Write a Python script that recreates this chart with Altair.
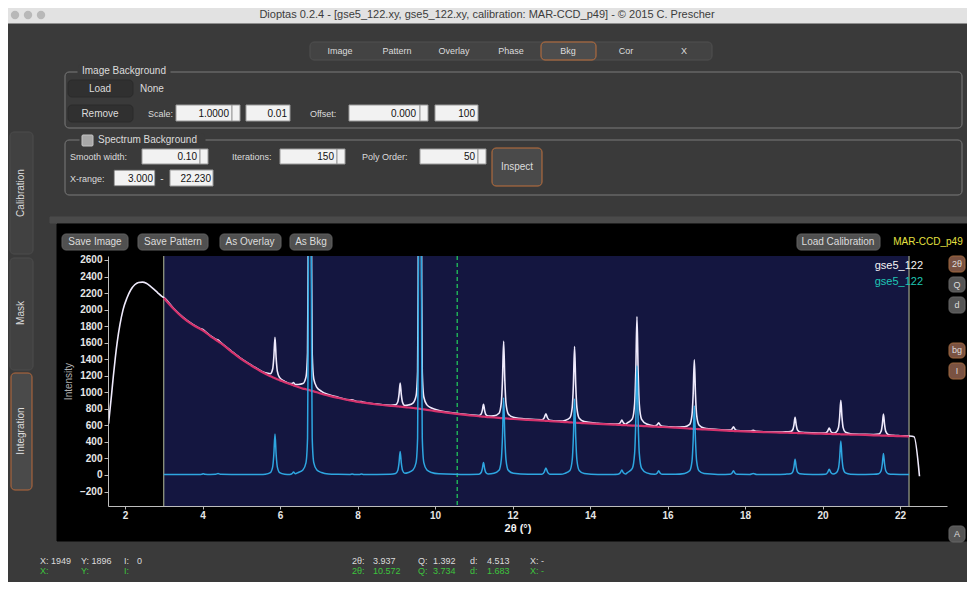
import altair as alt
import pandas as pd

# ------------------------------------------------------------------ data
# integrated pattern inside the background x-range (3.000 - 22.230)
two_theta = [
    3.00, 3.25, 3.50, 3.75, 3.92,
    3.98, 4.02, 4.06, 4.20, 4.34, 4.40, 4.46,
    4.75, 5.00, 5.25, 5.50,
    5.62, 5.75, 5.81, 5.84, 5.87, 5.90, 5.93, 5.99, 6.12,
    6.25, 6.31, 6.35, 6.39,
    6.47, 6.59, 6.67, 6.71, 6.725, 6.735, 6.77, 6.805, 6.815, 6.83, 6.87, 6.95, 7.07,
    7.25, 7.50, 7.80, 7.86, 7.92, 8.05, 8.10, 8.16, 8.50, 8.85,
    8.98, 9.04, 9.07, 9.10, 9.13, 9.16, 9.22,
    9.31, 9.43, 9.51, 9.55, 9.565, 9.575, 9.61, 9.645, 9.655, 9.67, 9.71, 9.79, 9.91,
    10.10, 10.50, 10.90,
    11.13, 11.19, 11.22, 11.25, 11.28, 11.31, 11.37,
    11.52, 11.65, 11.71, 11.74, 11.77, 11.80, 11.83, 11.89, 12.02,
    12.40, 12.76, 12.82, 12.86, 12.90, 12.96, 13.25,
    13.35, 13.48, 13.54, 13.57, 13.60, 13.63, 13.66, 13.72, 13.85,
    14.20, 14.60, 14.72, 14.78, 14.82, 14.86, 14.92,
    14.96, 15.09, 15.15, 15.18, 15.21, 15.24, 15.27, 15.33, 15.46,
    15.67, 15.73, 15.77, 15.81, 15.87, 16.20,
    16.44, 16.57, 16.63, 16.66, 16.69, 16.72, 16.75, 16.81, 16.94,
    17.30, 17.60, 17.66, 17.70, 17.74, 17.80, 18.12, 18.21, 18.30, 18.80,
    19.04, 19.17, 19.23, 19.26, 19.29, 19.32, 19.35, 19.41, 19.54,
    19.90, 20.07, 20.13, 20.17, 20.21, 20.27,
    20.35, 20.41, 20.44, 20.47, 20.50, 20.53, 20.59, 20.72,
    21.10, 21.32, 21.45, 21.51, 21.54, 21.57, 21.60, 21.63, 21.69, 21.82,
    22.00, 22.23,
]
background = [
    2140, 2010, 1900, 1815, 1770,
    1755, 1742, 1730, 1680, 1635, 1615, 1598,
    1490, 1400, 1325, 1255,
    1225, 1195, 1182, 1176, 1170, 1164, 1158, 1147, 1122,
    1100, 1090, 1084, 1077,
    1064, 1045, 1037, 1032, 1030, 1029, 1024, 1019, 1018, 1016, 1011, 1000, 982,
    960, 932, 902, 897, 892, 881, 878, 874, 852, 836,
    831, 829, 828, 826, 825, 823, 820,
    816, 810, 806, 804, 803, 802, 800, 798, 797, 796, 793, 788, 780,
    766, 742, 721,
    710, 707, 706, 705, 704, 702, 700,
    695, 690, 688, 687, 686, 685, 684, 682, 677,
    667, 658, 656, 655, 654, 652, 643,
    640, 637, 635, 634, 633, 632, 631, 630, 627,
    619, 610, 606, 605, 604, 603, 602,
    601, 598, 597, 596, 596, 595, 594, 593, 590,
    585, 583, 582, 581, 580, 572,
    565, 561, 559, 558, 557, 557, 556, 554, 551,
    542, 534, 533, 532, 531, 530, 524, 522, 521, 514,
    511, 510, 509, 508, 508, 508, 507, 507, 505,
    500, 498, 497, 497, 496, 495,
    494, 493, 493, 492, 492, 491, 491, 489,
    484, 480, 478, 477, 477, 476, 476, 475, 474, 472,
    469, 465,
]
subtracted = [
    6, 6, 6, 6, 6,
    9, 15, 9, 6, 8, 18, 8,
    6, 6, 6, 6,
    10, 30, 99, 248, 495, 248, 99, 30, 10,
    6, 16, 35, 16,
    30, 60, 150, 450, 1500, 3000, 9000, 3000, 1500, 450, 150, 60, 30,
    12, 8, 6, 12, 6, 6, 11, 6, 6, 8,
    17, 57, 143, 285, 143, 57, 20,
    30, 60, 150, 450, 1500, 3000, 12000, 3000, 1500, 450, 150, 60, 30,
    14, 8, 7,
    9, 30, 75, 150, 75, 30, 12,
    20, 56, 186, 465, 930, 465, 186, 56, 20,
    8, 10, 38, 85, 38, 10, 8,
    20, 55, 184, 460, 920, 460, 184, 55, 18,
    7, 7, 9, 27, 60, 27, 12,
    28, 80, 264, 660, 1320, 660, 264, 80, 26,
    8, 22, 50, 22, 8, 8,
    18, 50, 167, 418, 835, 418, 167, 50, 17,
    7, 8, 22, 50, 22, 8, 6, 18, 6, 6,
    10, 14, 38, 95, 190, 95, 38, 14, 8,
    7, 9, 32, 70, 32, 12,
    25, 82, 205, 410, 205, 82, 25, 10,
    7, 9, 16, 52, 130, 260, 130, 52, 16, 8,
    6, 6,
]
# raw pattern outside the background x-range
raw_left_theta = [1.575, 1.65, 1.70, 1.75, 1.80, 1.87, 1.95, 2.05, 2.15, 2.25,
                  2.35, 2.45, 2.55, 2.65, 2.75, 2.85, 2.95]
raw_left_intensity = [620, 960, 1200, 1420, 1610, 1820, 2000, 2140, 2240, 2300,
                      2328, 2332, 2318, 2285, 2245, 2200, 2160]
raw_right_theta = [22.36, 22.50]
raw_right_intensity = [463, -15]

bg_range = [3.0, 22.23]
cursor_two_theta = [10.572]
x_ticks = [2, 4, 6, 8, 10, 12, 14, 16, 18, 20, 22]
y_ticks = [-200, 0, 200, 400, 600, 800, 1000, 1200, 1400, 1600, 1800, 2000,
           2200, 2400, 2600]
legend_names = ["gse5_122", "gse5_122"]

assert len(two_theta) == len(background) == len(subtracted)

# ------------------------------------------------------------------ tables
df_sub = pd.DataFrame({"two_theta": two_theta, "intensity": subtracted})
df_bg = pd.DataFrame({"two_theta": two_theta, "intensity": background})
df_raw = pd.concat([
    pd.DataFrame({"two_theta": raw_left_theta, "intensity": raw_left_intensity}),
    pd.DataFrame({"two_theta": two_theta,
                  "intensity": [b + s for b, s in zip(background, subtracted)]}),
    pd.DataFrame({"two_theta": raw_right_theta, "intensity": raw_right_intensity}),
], ignore_index=True)
df_range = pd.DataFrame({"two_theta": [bg_range[0]], "two_theta_end": [bg_range[1]]})
df_range_lines = pd.DataFrame({"two_theta": bg_range})
df_cursor = pd.DataFrame({"two_theta": cursor_two_theta})

# ------------------------------------------------------------------ layout
W, H = 839, 250
OX, OY = 108, 256          # page position of the plot origin
FONT = "Liberation Sans Narrow, Liberation Sans, Arial, sans-serif"
XS = alt.Scale(domain=[1.561, 23.21], nice=False, zero=False)
YS = alt.Scale(domain=[-375, 2648], nice=False, zero=False)
XAX = alt.Axis(values=x_ticks, format="d", grid=False, zindex=1,
               labelColor="#e6e6e6", labelFontWeight="bold", labelFontSize=10,
               labelFont=FONT, domainColor="#bdbdbd", tickColor="#bdbdbd",
               tickSize=3, labelPadding=1, titleColor="#f0f0f0", titleFont=FONT,
               titleFontSize=11, titleFontWeight="bold", titlePadding=2,
               titleX=W / 2 - 10)
YAX = alt.Axis(values=y_ticks, format="d", grid=False, zindex=1,
               labelColor="#e6e6e6", labelFontWeight="bold", labelFontSize=10,
               labelFont=FONT, domainColor="#bdbdbd", tickColor="#bdbdbd",
               tickSize=4, labelPadding=2, titleColor="#b0b0b0", titleFont=FONT,
               titleFontSize=10, titleFontWeight="normal", titlePadding=6)


def X():
    return alt.X("two_theta:Q", scale=XS, axis=XAX, title="2θ (°)")


def Y():
    return alt.Y("intensity:Q", scale=YS, axis=YAX, title="Intensity")


# GUI decoration (page coordinates)
def rect_table(rows):
    return pd.DataFrame([{"x1": a - OX, "y1": b - OY, "x2": c - OX, "y2": d - OY,
                          "fill": f, "stroke": s} for a, b, c, d, f, s in rows])


def text_table(rows):
    return pd.DataFrame([{"px": a - OX, "py": b - OY, "text": t, "col": c, "fs": z}
                         for a, b, t, c, z in rows])


WHITE_IN = "#f2f2f2"
IN_STROKE = "#9a9a9a"
flat_rects = rect_table([
    (8, 8, 967, 23, "#e2e2e2", "#e2e2e2"),
    (50, 217, 967, 223, "#4a4a4a", "#4a4a4a"),
    (57, 224, 967, 541, "#000000", "#000000"),
    (176, 105, 232, 121, WHITE_IN, IN_STROKE), (232, 105, 240, 121, WHITE_IN, IN_STROKE),
    (246, 105, 290, 121, WHITE_IN, IN_STROKE),
    (349, 105, 420, 121, WHITE_IN, IN_STROKE), (420, 105, 428, 121, WHITE_IN, IN_STROKE),
    (435, 105, 478, 121, WHITE_IN, IN_STROKE),
    (142, 149, 200, 164, WHITE_IN, IN_STROKE), (200, 149, 208, 164, WHITE_IN, IN_STROKE),
    (280, 149, 337, 164, WHITE_IN, IN_STROKE), (337, 149, 345, 164, WHITE_IN, IN_STROKE),
    (420, 149, 478, 164, WHITE_IN, IN_STROKE), (478, 149, 486, 164, WHITE_IN, IN_STROKE),
    (114, 170, 155, 186, WHITE_IN, "#555555"),
    (170, 170, 213, 186, WHITE_IN, IN_STROKE),
])
round_rects = rect_table([
    (10, 132, 33, 254, "#414141", "#4c4c4c"),
    (10, 258, 33, 370, "#414141", "#4c4c4c"),
    (11, 373, 32, 490, "#4a4a4a", "#b8693a"),
    (310, 42, 712, 60, "#434343", "#505050"),
    (541, 42, 596, 60, "#4d4d4d", "#c0703c"),
    (65, 72, 962, 128, "transparent", "#7a7a7a"),
    (65, 140, 962, 195, "transparent", "#7a7a7a"),
    (78, 64, 170, 78, "#3a3a3a", "#3a3a3a"),
    (80, 133, 205, 147, "#3a3a3a", "#3a3a3a"),
    (68, 80, 133, 97, "#303030", "#2a2a2a"),
    (68, 105, 133, 122, "#303030", "#2a2a2a"),
    (492, 148, 542, 186, "#4a4a4a", "#c0703c"),
    (62, 234, 128, 250, "#505050", "#616161"),
    (138, 234, 208, 250, "#505050", "#616161"),
    (220, 234, 281, 250, "#505050", "#616161"),
    (290, 234, 332, 250, "#505050", "#616161"),
    (797, 234, 880, 250, "#505050", "#616161"),
    (949, 256, 965, 272, "#7a5242", "#a0683f"),
    (949, 277, 965, 292, "#555555", "#666666"),
    (949, 297, 965, 313, "#555555", "#666666"),
    (949, 343, 965, 358, "#7a5242", "#a0683f"),
    (949, 363, 965, 379, "#7a5242", "#a0683f"),
    (949, 526, 965, 542, "#555555", "#666666"),
])
small_rects = rect_table([
    (82, 135, 93, 146, "#a8a8a8", "#c4c4c4"),
])

G = "#dcdcdc"
K = "#111111"
GR = "#3cc43c"
texts_center = text_table([
    (487, 15, "Dioptas 0.2.4 - [gse5_122.xy, gse5_122.xy, calibration: MAR-CCD_p49] - © 2015 C. Prescher", "#3c3c3c", 11),
    (340, 51, "Image", G, 9), (397, 51, "Pattern", G, 9), (454, 51, "Overlay", G, 9),
    (511, 51, "Phase", G, 9), (568, 51, "Bkg", G, 9), (626, 51, "Cor", G, 9),
    (684, 51, "X", G, 9),
    (100, 89, "Load", G, 10), (100, 114, "Remove", G, 10),
    (517, 167, "Inspect", G, 10), (162, 179, "-", G, 10),
    (95, 242, "Save Image", G, 10), (173, 242, "Save Pattern", G, 10),
    (250, 242, "As Overlay", G, 10), (311, 242, "As Bkg", G, 10),
    (838, 242, "Load Calibration", G, 10),
    (928, 242, "MAR-CCD_p49", "#e4e040", 10),
    (957, 264, "2θ", G, 9), (957, 285, "Q", G, 9), (957, 305, "d", G, 9),
    (957, 350, "bg", G, 9), (957, 371, "I", G, 9), (957, 534, "A", G, 9),
])
texts_left = text_table([
    (82, 71, "Image Background", G, 10),
    (140, 89, "None", G, 10), (148, 114, "Scale:", G, 9), (310, 114, "Offset:", G, 9),
    (98, 140, "Spectrum Background", G, 10),
    (70, 157, "Smooth width:", G, 9), (232, 157, "Iterations:", G, 9),
    (362, 157, "Poly Order:", G, 9), (70, 179, "X-range:", G, 9),
    (40, 561, "X: 1949", G, 9), (81, 561, "Y: 1896", G, 9), (124, 561, "I:", G, 9),
    (137, 561, "0", G, 9), (352, 561, "2θ:", G, 9), (373, 561, "3.937", G, 9),
    (418, 561, "Q:", G, 9), (433, 561, "1.392", G, 9), (470, 561, "d:", G, 9),
    (487, 561, "4.513", G, 9), (530, 561, "X: -", G, 9),
    (40, 571, "X:", GR, 9), (81, 571, "Y:", GR, 9), (124, 571, "I:", GR, 9),
    (352, 571, "2θ:", GR, 9), (373, 571, "10.572", GR, 9), (418, 571, "Q:", GR, 9),
    (433, 571, "3.734", GR, 9), (470, 571, "d:", GR, 9), (487, 571, "1.683", GR, 9),
    (530, 571, "X: -", GR, 9),
])
texts_right = text_table([
    (229, 114, "1.0000", K, 10), (287, 114, "0.01", K, 10),
    (416, 114, "0.000", K, 10), (475, 114, "100", K, 10),
    (197, 157, "0.10", K, 10), (334, 157, "150", K, 10), (475, 157, "50", K, 10),
    (153, 179, "3.000", K, 10), (211, 179, "22.230", K, 10),
    (923, 266, legend_names[0], "#f4f4f4", 11),
    (923, 282, legend_names[1], "#1fc6b4", 11),
])
texts_rot = text_table([
    (21, 193, "Calibration", G, 10), (21, 313, "Mask", G, 10),
    (21, 431, "Integration", G, 10),
])
texts_rot["ang"] = 270

PX = alt.X("px:Q", scale=None, axis=None)
PY = alt.Y("py:Q", scale=None, axis=None)


def rect_layer(df, radius):
    return alt.Chart(df).mark_rect(cornerRadius=radius, strokeWidth=1).encode(
        x=alt.X("x1:Q", scale=None, axis=None), x2="x2:Q",
        y=alt.Y("y1:Q", scale=None, axis=None), y2="y2:Q",
        fill=alt.Fill("fill:N", scale=None, legend=None),
        stroke=alt.Stroke("stroke:N", scale=None, legend=None),
    )


def text_layer(df, align, **extra):
    return alt.Chart(df).mark_text(align=align, baseline="middle", font=FONT).encode(
        x=PX, y=PY, text="text:N",
        color=alt.Color("col:N", scale=None, legend=None),
        size=alt.Size("fs:Q", scale=None, legend=None), **extra)


dots = alt.Chart(pd.DataFrame({"px": [15 - OX, 28 - OX, 41 - OX],
                               "py": [15 - OY] * 3})).mark_circle(
    size=70, color="#b8b8b8", opacity=1).encode(x=PX, y=PY)

# ------------------------------------------------------------------ plot layers
navy = alt.Chart(df_range).mark_rect(color="#141640").encode(
    x=X(), x2="two_theta_end:Q", y=alt.value(0), y2=alt.value(H))
range_lines = alt.Chart(df_range_lines).mark_rule(
    color="#b9c09c", strokeWidth=1).encode(x=X(), y=alt.value(0), y2=alt.value(H))
cursor = alt.Chart(df_cursor).mark_rule(
    color="#22c45a", strokeWidth=1.3, strokeDash=[4, 3]).encode(
    x=X(), y=alt.value(0), y2=alt.value(H))
raw_line = alt.Chart(df_raw).mark_line(
    color="#efeafc", strokeWidth=1.6, interpolate="monotone", clip=True).encode(x=X(), y=Y())
bg_line = alt.Chart(df_bg).mark_line(
    color="#d4326c", strokeWidth=2.2, interpolate="monotone", clip=True).encode(x=X(), y=Y())
sub_line = alt.Chart(df_sub).mark_line(
    color="#2ea6e0", strokeWidth=1.5, interpolate="monotone", clip=True).encode(x=X(), y=Y())

chart = alt.layer(
    rect_layer(flat_rects, 0),
    rect_layer(round_rects, 4),
    rect_layer(small_rects, 1),
    dots,
    navy, range_lines, cursor, raw_line, bg_line, sub_line,
    text_layer(texts_center, "center"),
    text_layer(texts_left, "left"),
    text_layer(texts_right, "right"),
    text_layer(texts_rot, "center", angle=alt.Angle("ang:Q", scale=None)),
).properties(
    width=W, height=H,
    autosize=alt.AutoSizeParams(type="none"),
    padding={"left": 100, "top": 248, "right": 20, "bottom": 76},
    background="#3a3a3a",
).configure_view(fill="#000000", stroke=None)

chart.save("out.html", embed_options={"renderer": "svg", "actions": False})
